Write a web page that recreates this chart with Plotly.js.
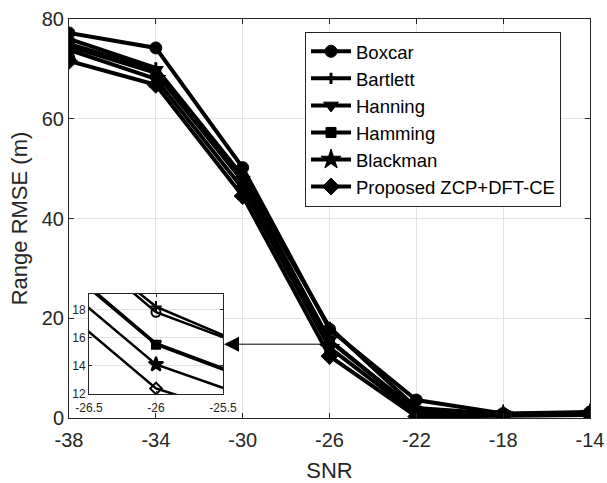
<!DOCTYPE html>
<html><head><meta charset="utf-8">
<script src="https://cdn.plot.ly/plotly-3.0.1.min.js"></script>
<style>body{margin:0;background:#fff}#c{width:607px;height:483px}</style>
</head><body><div id="c"></div>
<script>
const snr = [-38, -34, -30, -26, -22, -18, -14];
const boxcar   = [77.2, 74.2, 50.2, 17.8, 3.6, 0.9, 1.2];
const bartlett = [76.0, 70.2, 48.5, 18.2, 2.0, 0.8, 1.0];
const hanning  = [75.0, 69.8, 47.8, 15.6, 1.5, 0.8, 0.9];
const hamming  = [74.5, 69.2, 47.5, 15.5, 1.4, 0.7, 0.9];
const blackman = [73.8, 68.0, 46.0, 14.1, 0.8, 0.6, 0.8];
const proposed = [71.6, 66.8, 44.5, 12.4, 0.3, 0.5, 0.6];
const names = ['Boxcar', 'Bartlett', 'Hanning', 'Hamming', 'Blackman', 'Proposed ZCP+DFT-CE'];
const series = [boxcar, bartlett, hanning, hamming, blackman, proposed];
const xTicks = [-38, -34, -30, -26, -22, -18, -14];
const yTicks = [0, 20, 40, 60, 80];
const insetXTicks = [-26.5, -26, -25.5];
const insetYTicks = [12, 14, 16, 18];

const symbols = ['circle', 'cross-thin', 'triangle-down', 'square', 'star', 'diamond'];
const sizes = [12, 8, 13, 10, 15, 13];
const insetSymbols = ['circle-open', 'cross-thin', 'triangle-down', 'square', 'star', 'diamond-open'];
const insetSizes = [9, 8, 9, 8, 11, 9];

const traces = [];
series.forEach((s, i) => {
  traces.push({
    x: snr, y: s, name: names[i], type: 'scatter', mode: 'lines+markers',
    line: {color: '#000', width: 4},
    marker: {symbol: symbols[i], size: sizes[i], color: '#000', line: {color: '#000', width: i === 1 ? 3 : 1}},
    xaxis: 'x', yaxis: 'y'
  });
});
series.forEach((s, i) => {
  traces.push({
    x: snr, y: s, name: names[i], type: 'scatter', mode: 'lines+markers', showlegend: false,
    line: {color: '#000', width: 2.5},
    marker: {symbol: insetSymbols[i], size: insetSizes[i], color: '#000', line: {color: '#000', width: 2}},
    xaxis: 'x2', yaxis: 'y2'
  });
});

const font = {family: 'Liberation Sans, Arial, sans-serif', color: '#262626'};
const layout = {
  width: 607, height: 483,
  margin: {l: 69, r: 17, t: 19, b: 65},
  paper_bgcolor: '#fff', plot_bgcolor: '#fff',
  font: font,
  showlegend: true,
  legend: {
    x: 0.453, y: 0.968, xanchor: 'left', yanchor: 'top',
    bgcolor: '#fff', bordercolor: '#262626', borderwidth: 1,
    font: {family: font.family, size: 18.5, color: '#000'},
    tracegroupgap: 0, itemwidth: 40, entrywidth: 215, entrywidthmode: 'pixels'
  },
  xaxis: {
    range: [-38, -14], tickvals: xTicks, ticktext: xTicks.map(String),
    domain: [0, 1], showgrid: true, gridcolor: '#e3e3e3', zeroline: false,
    showline: true, linecolor: '#262626', linewidth: 1, mirror: 'ticks',
    ticks: 'inside', ticklen: 5, tickcolor: '#262626', ticklabelstandoff: 4,
    tickfont: {size: 20, family: font.family, color: '#262626'},
    title: {text: 'SNR', font: {size: 22, family: font.family, color: '#262626'}, standoff: 12}
  },
  yaxis: {
    range: [0, 80], tickvals: yTicks, ticktext: yTicks.map(String),
    domain: [0, 1], showgrid: true, gridcolor: '#e3e3e3', zeroline: false,
    showline: true, linecolor: '#262626', linewidth: 1, mirror: 'ticks',
    ticks: 'inside', ticklen: 5, tickcolor: '#262626',
    tickfont: {size: 20, family: font.family, color: '#262626'},
    title: {text: 'Range RMSE (m)', font: {size: 22, family: font.family, color: '#262626'}, standoff: 8}
  },
  xaxis2: {
    anchor: 'y2', domain: [0.0384, 0.2956], range: [-26.5, -25.5],
    tickvals: insetXTicks, ticktext: insetXTicks.map(String),
    showgrid: true, gridcolor: '#e3e3e3', zeroline: false,
    showline: true, linecolor: '#262626', linewidth: 1, mirror: 'ticks',
    ticks: 'inside', ticklen: 3, tickcolor: '#262626', ticklabelstandoff: 3,
    tickfont: {size: 12, family: font.family, color: '#262626'}
  },
  yaxis2: {
    anchor: 'x2', domain: [0.060, 0.311], range: [12, 19.1],
    tickvals: insetYTicks, ticktext: insetYTicks.map(String),
    showgrid: true, gridcolor: '#e3e3e3', zeroline: false,
    showline: true, linecolor: '#262626', linewidth: 1, mirror: 'ticks',
    ticks: 'inside', ticklen: 3, tickcolor: '#262626',
    tickfont: {size: 12, family: font.family, color: '#262626'}
  },
  annotations: [{
    xref: 'x', yref: 'y', axref: 'x', ayref: 'y',
    x: -30.86, y: 14.8, ax: -26, ay: 14.8, text: '',
    showarrow: true, arrowhead: 2, arrowsize: 3, arrowwidth: 1, arrowcolor: '#000'
  }]
};
Plotly.newPlot('c', traces, layout, {displayModeBar: false, staticPlot: true});
</script></body></html>
